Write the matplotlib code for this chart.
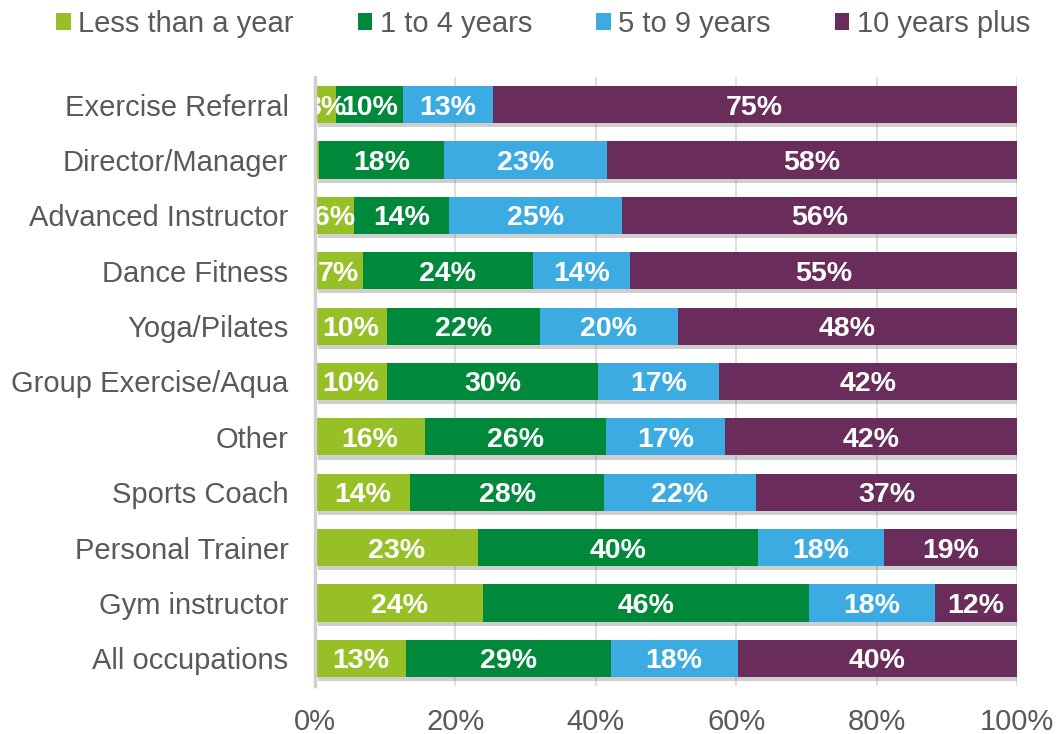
import matplotlib
matplotlib.use("Agg")
import matplotlib.pyplot as plt
import matplotlib.patheffects as pe
from matplotlib.patches import Patch
import numpy as np

categories = ["Exercise Referral", "Director/Manager", "Advanced Instructor", "Dance Fitness",
              "Yoga/Pilates", "Group Exercise/Aqua", "Other", "Sports Coach",
              "Personal Trainer", "Gym instructor", "All occupations"]
series_names = ["Less than a year", "1 to 4 years", "5 to 9 years", "10 years plus"]
less_than_year = [3.0, 0.5, 5.6, 6.8, 10.3, 10.3, 15.7, 13.6, 23.2, 24.0, 12.9]
one_to_four = [9.6, 17.9, 13.5, 24.2, 21.7, 30.0, 25.7, 27.6, 39.9, 46.4, 29.2]
five_to_nine = [12.7, 23.2, 24.6, 13.9, 19.7, 17.3, 17.0, 21.6, 18.0, 17.9, 18.1]
ten_plus = [74.7, 58.4, 56.3, 55.1, 48.3, 42.4, 41.6, 37.2, 18.9, 11.7, 39.8]
x_ticks = [0, 20, 40, 60, 80, 100]
x_tick_labels = ["0%", "20%", "40%", "60%", "80%", "100%"]

colors = ["#97BF26", "#00893B", "#3CABE1", "#692C5B"]
text_gray = "#595959"
font = "Liberation Sans"
fs = 21

fig = plt.figure(figsize=(10.59, 7.34), dpi=100)
ax = fig.add_axes([315/1059, 1 - 686/734, (1017 - 315)/1059, (686 - 77)/734])

y = np.arange(len(categories))
left = np.zeros(len(categories))
shadow = [pe.SimplePatchShadow(offset=(2, -3), shadow_rgbFace="#777777", alpha=0.35), pe.Normal()]
for name, vals, col in zip(series_names, [less_than_year, one_to_four, five_to_nine, ten_plus], colors):
    vals = np.array(vals)
    bars = ax.barh(y, vals, left=left, height=0.67, color=col, label=name, zorder=3)
    for b, v in zip(bars, vals):
        b.set_path_effects(shadow)
        if v >= 1:
            ax.text(b.get_x() + b.get_width() / 2, b.get_y() + b.get_height() / 2,
                    f"{int(v + 0.5)}%", ha="center", va="center_baseline", color="white",
                    fontsize=20.5, fontweight="bold", family=font, zorder=4)
    left += vals

ax.set_ylim(len(categories) - 0.5, -0.5)
ax.set_xlim(0, 100)
ax.set_yticks(y)
ax.set_yticklabels(categories, fontsize=fs, color=text_gray, family=font)
ax.set_xticks(x_ticks)
ax.set_xticklabels(x_tick_labels, fontsize=fs, color=text_gray, family=font)
ax.tick_params(axis="both", length=0)
ax.tick_params(axis="y", pad=19)
ax.tick_params(axis="x", pad=16)
ax.grid(axis="x", color="#D9D9D9", linewidth=1.2, zorder=0)
ax.set_axisbelow(True)
for s in ["top", "right", "bottom"]:
    ax.spines[s].set_visible(False)
ax.spines["left"].set_color("#D0D0D0")
ax.spines["left"].set_linewidth(2.5)
ax.spines["left"].set_zorder(5)

handles = [Patch(facecolor=c, edgecolor="none") for c in colors]
leg = fig.legend(handles, series_names, loc="center", bbox_to_anchor=(543/1059, 1 - 24/734),
                 ncol=4, frameon=False, handlelength=0.5, handleheight=0.5, handletextpad=0.25,
                 columnspacing=2.2, prop={"family": font, "size": fs})
for t in leg.get_texts():
    t.set_color(text_gray)

fig.savefig("out.png", dpi=100, facecolor="white")
